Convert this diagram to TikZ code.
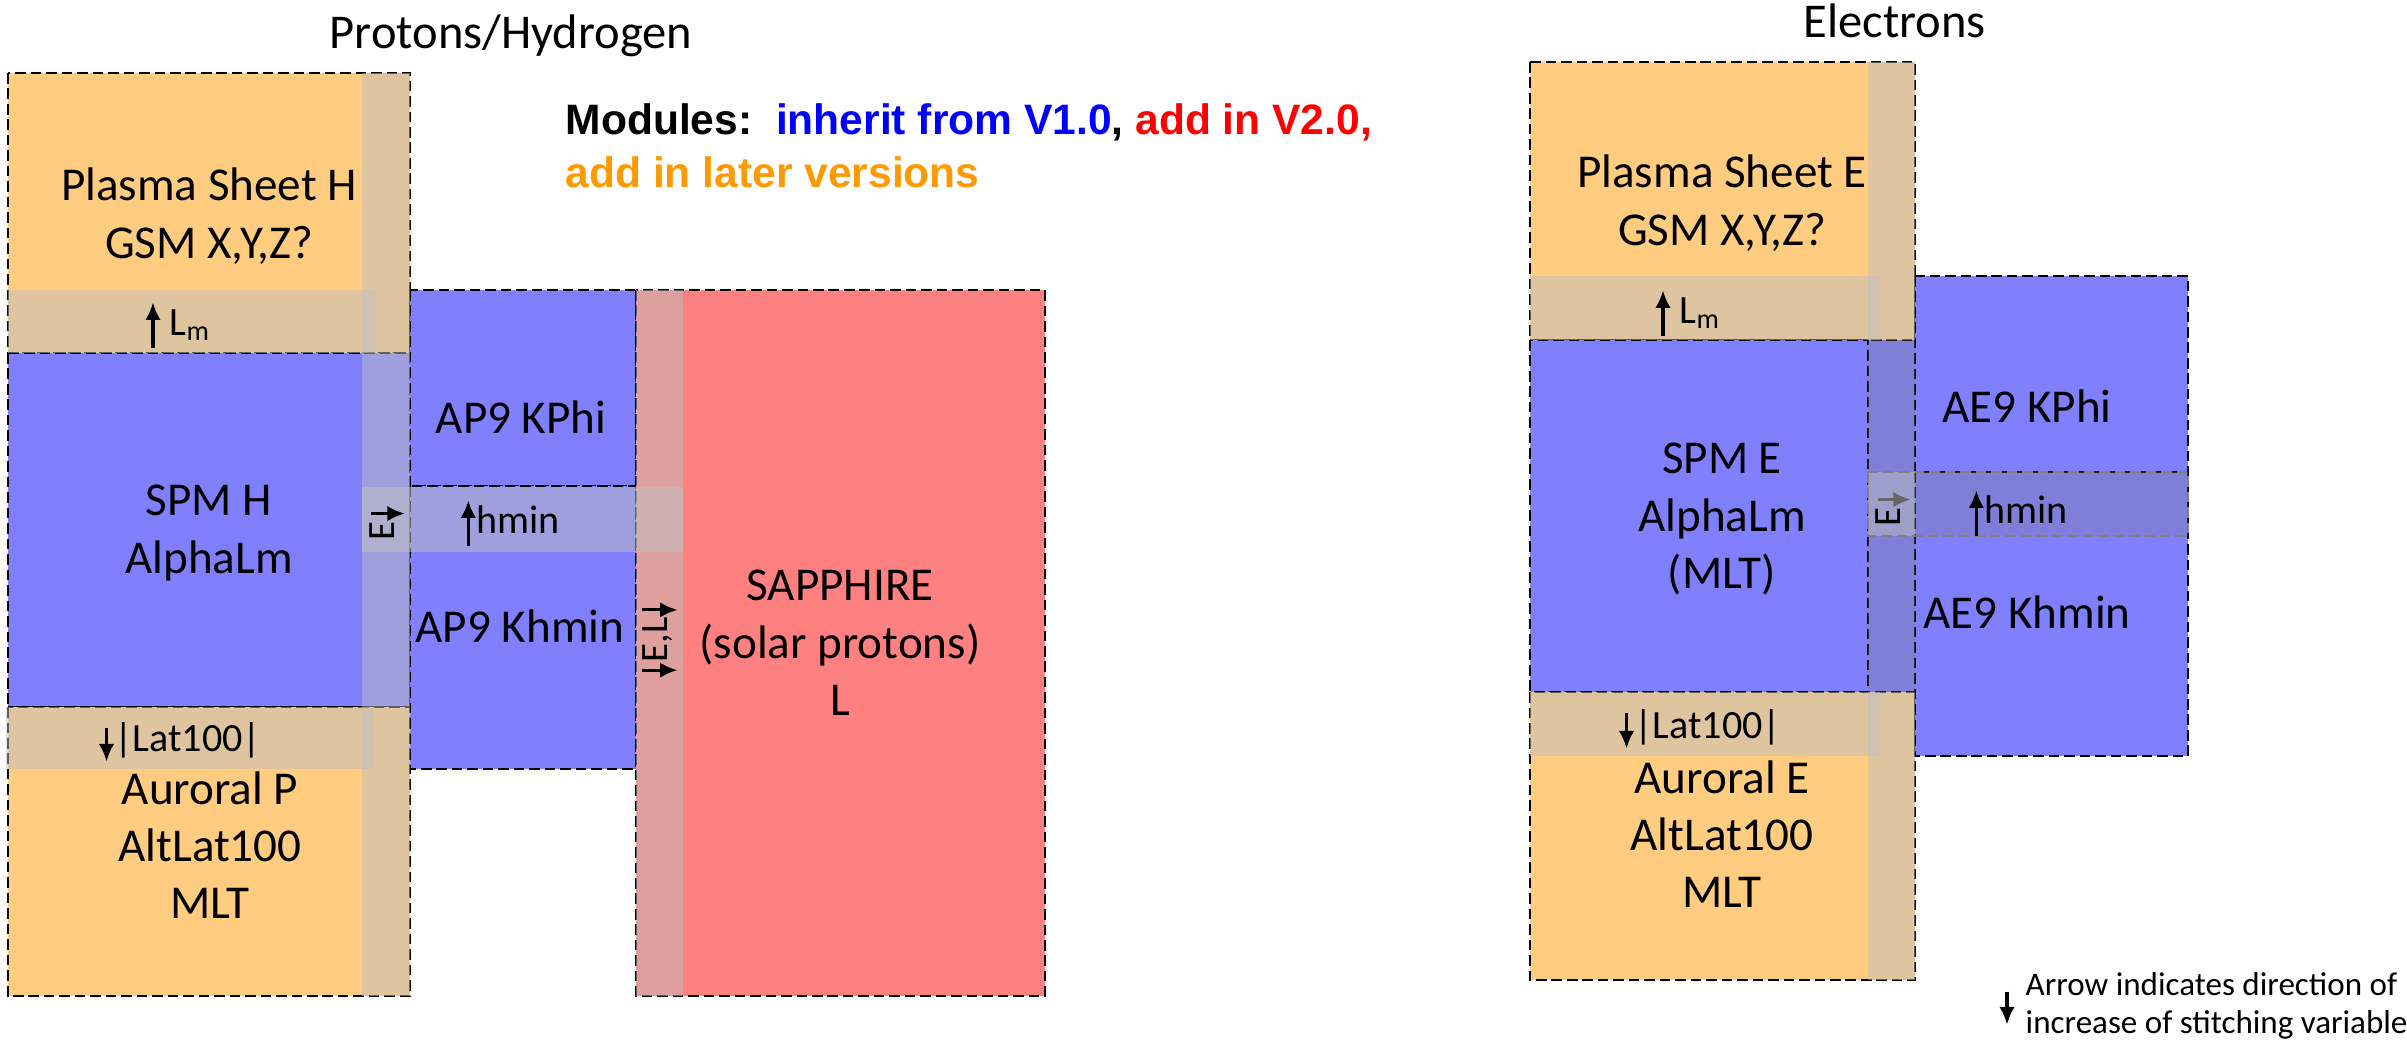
\documentclass[tikz,border=0pt]{standalone}
\usepackage{fontspec}
\setmainfont{Carlito}
\newfontfamily\headfont{Liberation Sans}
\usetikzlibrary{arrows.meta}

\definecolor{psorange}{RGB}{255,204,128}
\definecolor{v1blue}{RGB}{128,128,255}
\definecolor{sapred}{RGB}{255,128,128}
\definecolor{stitchgray}{RGB}{191,191,191}
\definecolor{stitchdark}{RGB}{127,127,127}
\definecolor{modblue}{RGB}{0,0,255}
\definecolor{modred}{RGB}{255,0,0}
\definecolor{modorange}{RGB}{255,153,0}

\tikzset{arr/.style={-{Latex[length=5pt,width=4.4pt]},line width=0.9pt}}
\newcommand{\uparr}{\tikz[baseline=3.7pt]\draw[arr] (0,0) -- (0,13pt);}
\newcommand{\dnarr}[2][black]{\tikz[baseline=3pt]\draw[arr,#1] (0,#2) -- (0,0);}

\begin{document}
\begin{tikzpicture}[x=0.01cm,y=-0.01cm,
        modbox/.style={draw=black,line width=0.6pt,dash pattern=on 3pt off 1.4pt},
        orangemod/.style={modbox,fill=psorange},
        bluemod/.style={modbox,fill=v1blue},
        redmod/.style={modbox,fill=sapred},
        stitch/.style={fill=stitchgray,fill opacity=0.5},
        darkstitch/.style={fill=stitchdark,fill opacity=0.3},
        modtext/.style={font=\fontsize{13.4pt}{16.3pt}\selectfont,align=center,inner sep=0pt},
        vartext/.style={font=\fontsize{11.4pt}{13.7pt}\selectfont,inner sep=0pt},
        sidetext/.style={font=\fontsize{11pt}{13pt}\selectfont,inner sep=0pt,rotate=90},
        headtext/.style={font=\fontsize{13.8pt}{16.6pt}\selectfont,inner sep=0pt}
    ]
    \useasboundingbox (0,0) rectangle (2407,1041);

    % protons / hydrogen
    \draw[orangemod] (8,73) rectangle (410,353);
    \draw[bluemod] (8,353) rectangle (410,707);
    \draw[orangemod] (8,707) rectangle (410,996);
    \draw[bluemod] (410,290) rectangle (636,486);
    \draw[bluemod] (410,486) rectangle (636,769);
    \draw[redmod] (636,290) rectangle (1045,996);

    \fill[stitch] (362,73) rectangle (410,996);
    \fill[stitch] (8,290) rectangle (376,353);
    \fill[stitch] (6,707) rectangle (373,769);
    \fill[stitch] (362,487) rectangle (683,552);
    \fill[stitch] (636,290) rectangle (683,996);

    \node[headtext,anchor=base] (prot) at (511,48) {Protons/Hydrogen};
    \node[font=\headfont\bfseries\fontsize{12.1pt}{15.1pt}\selectfont,align=left,anchor=west,inner sep=0pt] (modules) at (565,146)
        {Modules:\ \ \textcolor{modblue}{inherit from V1.0}, \textcolor{modred}{add in V2.0,}\\
         \textcolor{modorange}{add in later versions}};

    \node[modtext] (psh) at (209,216) {Plasma Sheet H\\GSM X,Y,Z?};
    \node[modtext] (spmh) at (209,533) {SPM H\\AlphaLm};
    \node[modtext] (aurp) at (210,845) {Auroral P\\AltLat100\\MLT};
    \node[modtext,anchor=base] (kphih) at (521,433) {AP9 KPhi};
    \node[modtext,anchor=base] (khminh) at (520,642) {AP9 Khmin};
    \node[modtext] (sapph) at (840,643) {SAPPHIRE\\(solar protons)\\L};

    \node[vartext,anchor=base] (lmh) at (178,335) {\uparr\ L\textsubscript{m}};
    \node[vartext,anchor=base] (hminh) at (510,533) {\uparr hmin};
    \node[vartext,anchor=base] (lath) at (180,751) {\dnarr{9.5pt}|Lat100|};
    \node[sidetext] (eh) at (388,523) {E\dnarr{9.5pt}};
    \node[sidetext] (elh) at (660,640) {\dnarr{10pt}E,L\dnarr{10pt}};

    % electrons
    \fill[v1blue] (1868,340) rectangle (1915,692);
    \draw[orangemod] (1530,62) rectangle (1915,340);
    \draw[bluemod] (1530,340) rectangle (1868,692);
    \draw[orangemod] (1530,692) rectangle (1915,980);
    \draw[bluemod] (1915,276) rectangle (2188,472);
    \draw[bluemod] (1915,472) rectangle (2188,756);

    \fill[stitch] (1868,62) rectangle (1915,340);
    \fill[stitch] (1868,692) rectangle (1915,980);
    \fill[darkstitch] (1868,340) rectangle (1915,692);
    \fill[stitch] (1530,276) rectangle (1880,340);
    \fill[stitch] (1530,692) rectangle (1880,756);
    \fill[darkstitch] (1915,472) rectangle (2188,536);
    \fill[stitch] (1868,472) rectangle (1915,536);
    \draw[draw=black!50,line width=0.6pt,dash pattern=on 3pt off 1.4pt] (1868,472) rectangle (2188,536);

    \node[headtext,anchor=base west] (elec) at (1803,37) {Electrons};
    \node[modtext] (pse) at (1722,203) {Plasma Sheet E\\GSM X,Y,Z?};
    \node[modtext] (spme) at (1722,519) {SPM E\\AlphaLm\\(MLT)};
    \node[modtext] (aure) at (1722,834) {Auroral E\\AltLat100\\MLT};
    \node[modtext,anchor=base] (kphie) at (2027,422) {AE9 KPhi};
    \node[modtext,anchor=base] (khmine) at (2027,628) {AE9 Khmin};

    \node[vartext,anchor=base] (lme) at (1688,323) {\uparr\ L\textsubscript{m}};
    \node[vartext,anchor=base] (hmine) at (2018,523) {\uparr hmin};
    \node[vartext,anchor=base] (late) at (1700,738) {\dnarr{10pt}|Lat100|};
    \node[sidetext] (ee) at (1894,509) {E\dnarr[black!60]{9.5pt}};

    % legend
    \node[inner sep=0pt] (legarr) at (2007,1008) {\dnarr{9.4pt}};
    \node[font=\fontsize{9.4pt}{10.8pt}\selectfont,align=left,anchor=west,inner sep=0pt] (legend) at (2025,1006)
        {Arrow indicates direction of\\increase of stitching variable};

\end{tikzpicture}
\end{document}
